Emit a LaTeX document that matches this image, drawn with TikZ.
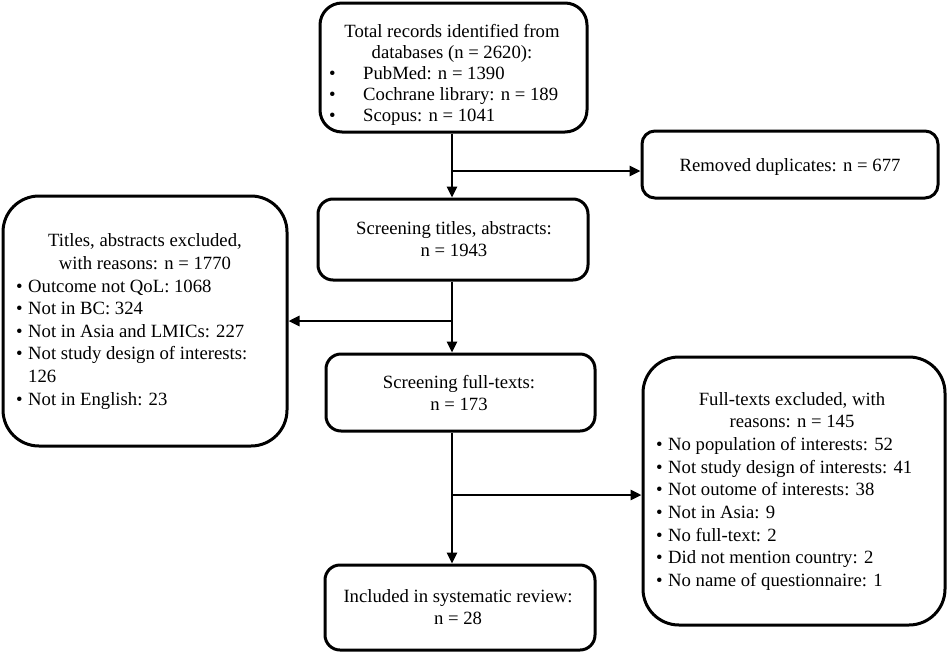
\documentclass[tikz,border=0pt]{standalone}
\usepackage{fontspec}
\setmainfont{Liberation Serif}
\usetikzlibrary{arrows.meta}
\begin{document}
\begin{tikzpicture}[x=1pt,y=-1pt,
  box/.style={draw=black, line width=3pt, fill=white, inner sep=0pt},
  txt/.style={inner sep=0pt, font=\fontsize{18.7}{21}\selectfont},
  txtw/.style={inner sep=0pt, font=\fontsize{18.7}{22.65}\selectfont},
  arr/.style={line width=2.6pt, -{Triangle[length=11pt,width=10pt]}},
  ln/.style={line width=2.6pt}]
\useasboundingbox[fill=white] (0,0) rectangle (948,654);
% boxes
\node[box, minimum width=267pt, minimum height=129pt, rounded corners=22pt] (b1) at (453.5,67.5) {};
\node[box, minimum width=296pt, minimum height=67pt, rounded corners=13pt] (rem) at (790,164.5) {};
\node[box, minimum width=270pt, minimum height=81pt, rounded corners=15pt] (b2) at (453,239.5) {};
\node[box, minimum width=284pt, minimum height=250pt, rounded corners=36pt] (lft) at (145,321) {};
\node[box, minimum width=269pt, minimum height=77pt, rounded corners=15pt] (b3) at (460.5,392.5) {};
\node[box, minimum width=302pt, minimum height=268pt, rounded corners=36pt] (rgt) at (794,491) {};
\node[box, minimum width=270pt, minimum height=85pt, rounded corners=15pt] (b4) at (460,607.5) {};
% texts
\node[txt, anchor=base] (t1h) at (452,37) {\begin{tabular}[t]{@{}c@{}}Total records identified from\\ databases (n = 2620):\end{tabular}};
\node[txt, anchor=base west] (t1l) at (329,79) {\begin{tabular}[t]{@{}l@{}}\makebox[34pt][l]{•}PubMed: n = 1390\\ \makebox[34pt][l]{•}Cochrane library: n = 189\\ \makebox[34pt][l]{•}Scopus: n = 1041\end{tabular}};
\node[txt, anchor=base] (tr) at (790,171) {Removed duplicates: n = 677};
\node[txtw, anchor=base] (t2) at (454,234) {\begin{tabular}[t]{@{}c@{}}Screening titles, abstracts:\\ n = 1943\end{tabular}};
\node[txtw, anchor=base] (tlh) at (145,246.7) {\begin{tabular}[t]{@{}c@{}}Titles, abstracts excluded,\\ with reasons: n = 1770\end{tabular}};
\node[txtw, anchor=base west] (tll) at (16,292) {\begin{tabular}[t]{@{}l@{}}\makebox[12pt][l]{•}Outcome not QoL: 1068\\ \makebox[12pt][l]{•}Not in BC: 324\\ \makebox[12pt][l]{•}Not in Asia and LMICs: 227\\ \makebox[12pt][l]{•}Not study design of interests:\\ \hspace*{12pt}126\\ \makebox[12pt][l]{•}Not in English: 23\end{tabular}};
\node[txtw, anchor=base] (t3) at (459,388) {\begin{tabular}[t]{@{}c@{}}Screening full-texts:\\ n = 173\end{tabular}};
\node[txtw, anchor=base] (trh) at (792,405) {\begin{tabular}[t]{@{}c@{}}Full-texts excluded, with\\ reasons: n = 145\end{tabular}};
\node[txtw, anchor=base west] (trl) at (656,450.4) {\begin{tabular}[t]{@{}l@{}}\makebox[12pt][l]{•}No population of interests: 52\\ \makebox[12pt][l]{•}Not study design of interests: 41\\ \makebox[12pt][l]{•}Not outome of interests: 38\\ \makebox[12pt][l]{•}Not in Asia: 9\\ \makebox[12pt][l]{•}No full-text: 2\\ \makebox[12pt][l]{•}Did not mention country: 2\\ \makebox[12pt][l]{•}No name of questionnaire: 1\end{tabular}};
\node[txtw, anchor=base] (t4) at (458,602) {\begin{tabular}[t]{@{}c@{}}Included in systematic review:\\ n = 28\end{tabular}};
% connectors
\coordinate (sp) at (452,0);
\coordinate (j1) at (452,171);
\coordinate (j2) at (452,321);
\coordinate (j3) at (452,495);
\draw[arr] (b1.south -| sp) -- (b2.north -| sp);
\draw[arr] (j1) -- (j1 -| rem.west);
\draw[arr] (b2.south -| sp) -- (b3.north -| sp);
\draw[arr] (j2) -- (j2 -| lft.east);
\draw[arr] (b3.south -| sp) -- (b4.north -| sp);
\draw[arr] (j3) -- (j3 -| rgt.west);
\end{tikzpicture}
\end{document}
